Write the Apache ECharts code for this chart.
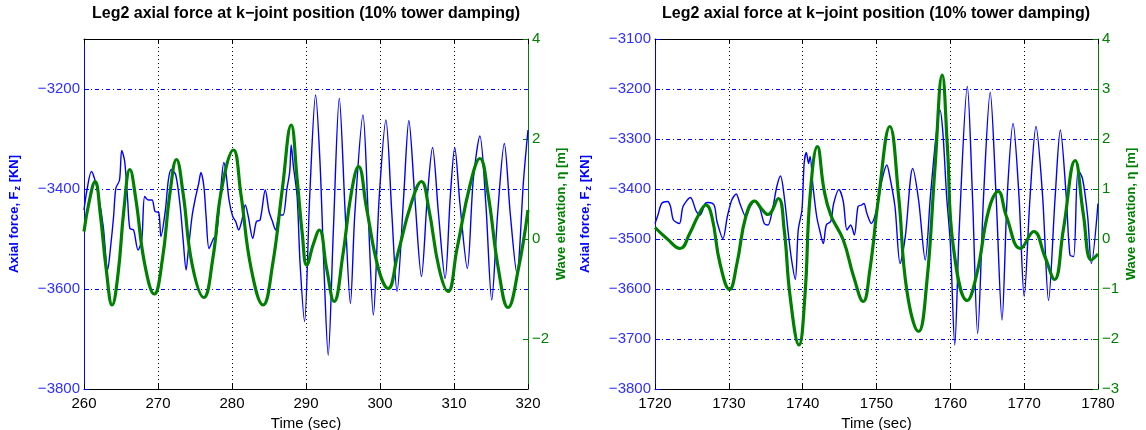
<!DOCTYPE html>
<html>
<head>
<meta charset="utf-8">
<title>Leg2 axial force at k-joint position</title>
<script src="https://cdn.jsdelivr.net/npm/echarts@6/dist/echarts.min.js"></script>
<style>
  html, body { margin: 0; padding: 0; background: #fff; }
  #chart { width: 1146px; height: 430px; }
</style>
</head>
<body>
<div id="chart"></div>
<script>
// 标题
const titleText = 'Leg2 axial force at k\u2212joint position (10% tower damping)'

// 左图 260-320 s : [时间, 轴力 kN]
const leftForce = [
  [260.0, -3442], [260.4, -3402], [261.0, -3365], [261.4, -3378], [261.9, -3409],
  [262.6, -3475], [263.2, -3562], [263.6, -3515], [264.0, -3455], [264.3, -3399],
  [264.8, -3382], [265.1, -3323], [265.5, -3345], [265.9, -3422], [266.2, -3479],
  [266.7, -3482], [267.3, -3522], [267.8, -3502], [268.2, -3415], [268.7, -3422],
  [269.2, -3422], [269.6, -3445], [270.1, -3447], [270.4, -3495], [271.0, -3442],
  [271.4, -3382], [271.8, -3361], [272.4, -3372], [273.0, -3435], [273.4, -3502],
  [273.8, -3562], [274.1, -3522], [274.6, -3455], [275.0, -3422], [275.5, -3389],
  [275.8, -3367], [276.2, -3395], [276.5, -3455], [276.9, -3519], [277.5, -3499],
  [277.9, -3492], [278.4, -3415], [278.9, -3347], [279.2, -3369], [279.6, -3422],
  [280.1, -3455], [280.5, -3465], [280.9, -3482], [281.3, -3465], [281.8, -3432],
  [282.2, -3455], [282.8, -3499], [283.3, -3465], [283.8, -3462], [284.5, -3402],
  [285.0, -3445], [285.4, -3462], [285.9, -3482], [286.4, -3452], [286.9, -3452],
  [287.4, -3402], [287.8, -3365], [288.0, -3312], [288.3, -3355], [288.8, -3415],
  [289.2, -3549], [289.8, -3665], [290.5, -3415], [291.3, -3212], [291.9, -3349],
  [292.4, -3549], [293.0, -3732], [293.7, -3482], [294.5, -3219], [295.3, -3449],
  [296.0, -3629], [296.6, -3449], [297.7, -3252], [298.4, -3449], [299.1, -3652],
  [299.9, -3415], [300.8, -3262], [301.6, -3449], [302.3, -3605], [303.2, -3415],
  [303.9, -3263], [304.7, -3415], [305.6, -3575], [306.4, -3415], [307.1, -3317],
  [307.9, -3449], [308.8, -3579], [309.5, -3415], [310.1, -3317], [310.8, -3429],
  [311.8, -3559], [312.6, -3382], [313.5, -3294], [314.3, -3429], [315.1, -3622],
  [315.9, -3449], [316.8, -3309], [317.6, -3449], [318.5, -3569], [319.4, -3382],
  [320.0, -3282]
]

// 左图 : [时间, 波面高程 m]
const leftWave = [
  [260.0, 0.15], [260.7, 0.75], [261.5, 1.15], [262.2, 0.5], [263.0, -0.6],
  [263.8, -1.32], [264.6, -0.7], [265.4, 0.6], [266.2, 1.39], [267.0, 0.8],
  [268.2, -0.5], [269.5, -1.1], [270.6, -0.4], [271.6, 0.9], [272.5, 1.59],
  [273.4, 0.9], [274.6, -0.5], [276.2, -1.17], [277.4, -0.4], [278.6, 1.0],
  [280.2, 1.78], [281.2, 0.9], [282.6, -0.6], [284.2, -1.32], [285.5, -0.5],
  [286.8, 1.0], [288.0, 2.28], [288.8, 1.2], [289.5, 0.1], [290.1, -0.52],
  [291.0, -0.1], [291.8, 0.18], [292.8, -0.6], [293.8, -1.25], [295.0, -0.3],
  [296.1, 0.9], [297.1, 1.45], [298.2, 0.6], [299.8, -0.6], [301.1, -0.99],
  [302.4, -0.3], [304.2, 0.7], [305.6, 1.15], [306.6, 0.6], [308.0, -0.6],
  [309.2, -1.05], [310.4, -0.2], [312.2, 1.1], [313.5, 1.61], [314.6, 0.9],
  [316.0, -0.6], [317.3, -1.37], [318.7, -0.6], [320.0, 0.58]
]

// 右图 1720-1780 s : [时间, 轴力 kN]
const rightForce = [
  [1720.0, -3469], [1720.4, -3452], [1720.9, -3429], [1721.7, -3425], [1722.1, -3435],
  [1722.5, -3462], [1723.3, -3469], [1723.8, -3435], [1724.8, -3417], [1725.6, -3445],
  [1726.1, -3452], [1726.8, -3429], [1727.2, -3427], [1728.0, -3432], [1728.4, -3465],
  [1729.2, -3499], [1729.8, -3455], [1730.4, -3422], [1731.0, -3410], [1731.5, -3429],
  [1732.3, -3455], [1732.9, -3435], [1733.5, -3424], [1734.2, -3439], [1734.8, -3469],
  [1735.3, -3472], [1735.9, -3442], [1736.5, -3395], [1737.0, -3374], [1737.5, -3415],
  [1738.1, -3495], [1738.5, -3542], [1739.0, -3581], [1739.4, -3482], [1739.9, -3442],
  [1740.2, -3349], [1740.5, -3327], [1740.8, -3349], [1741.0, -3335], [1741.4, -3395],
  [1741.9, -3455], [1742.3, -3482], [1742.8, -3509], [1743.2, -3472], [1743.8, -3465],
  [1744.2, -3429], [1744.9, -3401], [1745.5, -3425], [1746.0, -3482], [1746.5, -3472],
  [1747.0, -3492], [1747.5, -3435], [1748.0, -3432], [1748.3, -3429], [1748.7, -3449],
  [1749.3, -3469], [1750.0, -3442], [1750.7, -3385], [1751.4, -3352], [1751.8, -3375],
  [1752.5, -3435], [1753.2, -3549], [1753.9, -3495], [1754.9, -3359], [1755.7, -3422],
  [1756.6, -3542], [1757.3, -3415], [1758.1, -3289], [1758.6, -3242], [1759.0, -3289],
  [1759.5, -3415], [1760.0, -3509], [1760.6, -3712], [1761.2, -3482], [1762.3, -3195],
  [1763.0, -3415], [1763.7, -3689], [1764.5, -3415], [1765.4, -3207], [1766.2, -3415],
  [1767.0, -3662], [1767.7, -3415], [1768.5, -3269], [1769.3, -3415], [1770.0, -3615],
  [1770.8, -3415], [1771.6, -3275], [1772.5, -3415], [1773.3, -3623], [1774.2, -3415],
  [1774.9, -3282], [1775.7, -3415], [1776.2, -3532], [1776.7, -3535], [1777.3, -3362],
  [1777.9, -3379], [1778.6, -3455], [1779.1, -3549], [1780.0, -3429]
]

// 右图 : [时间, 波面高程 m]
const rightWave = [
  [1720.0, 0.23], [1721.6, 0.01], [1723.4, -0.19], [1724.7, 0.11], [1725.9, 0.48],
  [1726.9, 0.68], [1727.7, 0.45], [1728.8, -0.49], [1730.1, -1.01], [1731.1, -0.49],
  [1732.3, 0.45], [1733.5, 0.76], [1734.4, 0.61], [1735.3, 0.49], [1736.7, 0.81],
  [1737.5, 0.18], [1738.3, -1.15], [1739.5, -2.12], [1740.3, -1.15], [1741.0, 0.85],
  [1742.0, 1.85], [1742.9, 0.98], [1743.8, 0.48], [1745.5, -0.02], [1746.9, -0.75],
  [1748.2, -1.25], [1749.1, -0.62], [1750.3, 0.85], [1751.8, 2.25], [1753.0, 0.85],
  [1754.1, -1.02], [1755.7, -1.85], [1756.8, -0.89], [1757.9, 1.38], [1758.9, 3.28],
  [1759.6, 1.85], [1760.4, -0.15], [1762.3, -1.23], [1763.6, -0.69], [1765.2, 0.58],
  [1766.5, 0.95], [1767.6, 0.45], [1769.5, -0.19], [1771.3, 0.15], [1772.8, -0.35],
  [1774.1, -0.81], [1775.3, 0.18], [1776.9, 1.57], [1778.0, 0.51], [1779.1, -0.42],
  [1780.0, -0.3]
]

// 坐标范围 / 刻度
const leftTimeRange = [260, 320]
const rightTimeRange = [1720, 1780]
const forceRange = [-3800, -3100]
const waveRange = [-3, 4]
const leftWaveTicks = [-2, 0, 2, 4]
const rightWaveTicks = [-3, -2, -1, 0, 1, 2, 3, 4]

const FONT = '"Liberation Sans", Arial, sans-serif'
const BLUE = '#0000ff'
const GREEN = '#008000'
const minus = v => (v < 0 ? '\u2212' + Math.abs(v) : String(v))

function timeAxes(grid, range) {
  return [{
    type: 'value', gridIndex: grid, position: 'bottom',
    min: range[0], max: range[1], interval: 10,
    name: 'Time (sec)', nameLocation: 'middle', nameGap: 24,
    nameTextStyle: { color: '#000', fontSize: 15, fontFamily: FONT },
    axisLine: { onZero: false, lineStyle: { color: '#000', width: 1 } },
    axisTick: { inside: true, length: 5, lineStyle: { color: '#000' } },
    axisLabel: { color: '#000', fontSize: 15, fontFamily: FONT, margin: 7, formatter: v => String(v) },
    splitLine: { show: true, lineStyle: { color: '#000', type: [1, 3], width: 1 } }
  }, {
    type: 'value', gridIndex: grid, position: 'top',
    min: range[0], max: range[1], interval: 10,
    axisLine: { show: true, onZero: false, lineStyle: { color: '#000', width: 1 } },
    axisTick: { inside: true, length: 5, lineStyle: { color: '#000' } },
    axisLabel: { show: false },
    splitLine: { show: false }
  }]
}

function forceAxis(grid, step, showMax) {
  return {
    type: 'value', gridIndex: grid, position: 'left',
    min: forceRange[0], max: forceRange[1], interval: step,
    name: 'Axial force, F{sub|z} [KN]', nameLocation: 'middle', nameGap: 62, nameRotate: 90,
    nameTextStyle: {
      color: BLUE, fontSize: 13, fontWeight: 'bold', fontFamily: FONT,
      rich: { sub: { fontSize: 9, fontWeight: 'bold', color: BLUE, fontFamily: FONT, padding: [6, 0, 0, 1] } }
    },
    axisLine: { show: true, onZero: false, lineStyle: { color: BLUE, width: 1 } },
    axisTick: { show: true, inside: true, length: 5, lineStyle: { color: BLUE } },
    axisLabel: { color: '#2f2fff', fontSize: 15, fontFamily: FONT, margin: 4, formatter: minus, showMaxLabel: showMax },
    splitLine: { show: true, lineStyle: { color: BLUE, type: [4, 3, 1, 3], width: 1 } }
  }
}

function waveAxis(grid, ticks) {
  return {
    type: 'value', gridIndex: grid, position: 'right',
    min: waveRange[0], max: waveRange[1], interval: 1,
    name: 'Wave elevation, \u03b7 [m]', nameLocation: 'middle', nameGap: 27, nameRotate: 90,
    nameTextStyle: { color: GREEN, fontSize: 13, fontWeight: 'bold', fontFamily: FONT },
    axisLine: { show: true, onZero: false, lineStyle: { color: GREEN, width: 1 } },
    axisTick: { show: true, inside: true, length: 5, customValues: ticks, lineStyle: { color: GREEN } },
    axisLabel: { color: GREEN, fontSize: 15, fontFamily: FONT, margin: 4, customValues: ticks, formatter: minus },
    splitLine: { show: false }
  }
}

function forceSeries(x, y, data) {
  return {
    type: 'line', xAxisIndex: x, yAxisIndex: y, data: data,
    showSymbol: false, smooth: 0.3, z: 2,
    lineStyle: { color: BLUE, width: 1.4 }
  }
}

function waveSeries(x, y, data) {
  return {
    type: 'line', xAxisIndex: x, yAxisIndex: y, data: data,
    showSymbol: false, smooth: 0.45, z: 3,
    lineStyle: { color: GREEN, width: 3.2 }
  }
}

const chart = echarts.init(document.getElementById('chart'))

chart.setOption({
  backgroundColor: '#fff',
  animation: false,
  title: [
    { text: titleText, left: 306, top: 6, padding: 0, textAlign: 'center',
      textStyle: { fontSize: 16, fontWeight: 'bold', color: '#000', fontFamily: FONT } },
    { text: titleText, left: 876, top: 6, padding: 0, textAlign: 'center',
      textStyle: { fontSize: 16, fontWeight: 'bold', color: '#000', fontFamily: FONT } }
  ],
  grid: [
    { left: 84, top: 39, width: 444, height: 350, outerBoundsMode: 'none' },
    { left: 655, top: 39, width: 443, height: 350, outerBoundsMode: 'none' }
  ],
  xAxis: [...timeAxes(0, leftTimeRange), ...timeAxes(1, rightTimeRange)],
  yAxis: [
    forceAxis(0, 200, false), waveAxis(0, leftWaveTicks),
    forceAxis(1, 100, true), waveAxis(1, rightWaveTicks)
  ],
  series: [
    forceSeries(0, 0, leftForce),
    waveSeries(0, 1, leftWave),
    forceSeries(2, 2, rightForce),
    waveSeries(2, 3, rightWave)
  ]
})
</script>
</body>
</html>
